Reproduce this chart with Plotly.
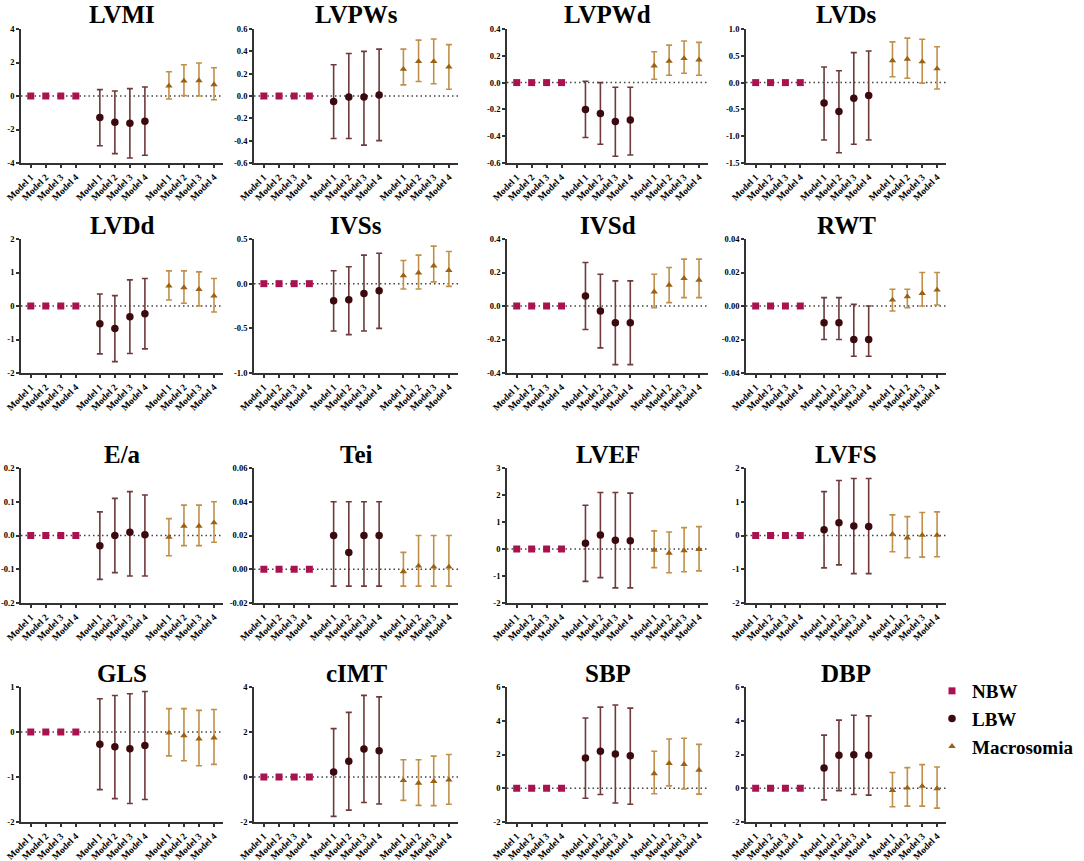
import plotly.graph_objects as go
from plotly.subplots import make_subplots

metrics = ["LVMI", "LVPWs", "LVPWd", "LVDs", "LVDd", "IVSs", "IVSd", "RWT",
           "E/a", "Tei", "LVEF", "LVFS", "GLS", "cIMT", "SBP", "DBP"]
model_labels = ["Model 1", "Model 2", "Model 3", "Model 4"]
group_names = ["NBW", "LBW", "Macrosomia"]

# y axis ranges / tick step / decimals per panel
y_min = [-4, -0.6, -0.6, -1.5, -2, -1.0, -0.4, -0.04, -0.2, -0.02, -2, -2, -2, -2, -2, -2]
y_max = [4, 0.6, 0.4, 1.0, 2, 0.5, 0.4, 0.04, 0.2, 0.06, 3, 2, 1, 4, 6, 6]
y_step = [2, 0.2, 0.2, 0.5, 1, 0.5, 0.2, 0.02, 0.1, 0.02, 1, 1, 1, 2, 2, 2]
y_dec = [0, 1, 1, 1, 0, 1, 1, 2, 1, 2, 0, 0, 0, 0, 0, 0]

# NBW is the reference group -> 0 everywhere
nbw_est = [0, 0, 0, 0]

lbw_est = [
    [-1.29, -1.57, -1.63, -1.51], [-0.05, -0.01, -0.01, 0.01], [-0.20, -0.23, -0.29, -0.28],
    [-0.38, -0.54, -0.29, -0.24], [-0.53, -0.67, -0.32, -0.23], [-0.19, -0.18, -0.11, -0.08],
    [0.06, -0.03, -0.10, -0.10], [-0.01, -0.01, -0.02, -0.02], [-0.03, 0.0, 0.01, 0.002],
    [0.02, 0.01, 0.02, 0.02], [0.21, 0.52, 0.32, 0.31], [0.17, 0.38, 0.28, 0.27],
    [-0.27, -0.33, -0.37, -0.30], [0.22, 0.70, 1.24, 1.17], [1.79, 2.20, 2.03, 1.93],
    [1.20, 1.95, 1.99, 1.95],
]
lbw_lo = [
    [-2.97, -3.44, -3.70, -3.54], [-0.38, -0.38, -0.44, -0.40], [-0.41, -0.46, -0.55, -0.54],
    [-1.07, -1.31, -1.15, -1.07], [-1.43, -1.66, -1.42, -1.28], [-0.53, -0.57, -0.53, -0.50],
    [-0.14, -0.25, -0.35, -0.35], [-0.02, -0.02, -0.03, -0.03], [-0.13, -0.11, -0.12, -0.12],
    [-0.01, -0.01, -0.01, -0.01], [-1.20, -1.06, -1.44, -1.44], [-0.96, -0.87, -1.13, -1.13],
    [-1.28, -1.48, -1.59, -1.50], [-1.75, -1.47, -1.13, -1.20], [-0.59, -0.37, -0.87, -0.95],
    [-0.69, -0.14, -0.37, -0.41],
]
lbw_hi = [
    [0.38, 0.30, 0.44, 0.54], [0.28, 0.38, 0.40, 0.42], [0.01, 0.0, -0.035, -0.035],
    [0.29, 0.22, 0.56, 0.59], [0.36, 0.31, 0.78, 0.82], [0.145, 0.19, 0.32, 0.34],
    [0.26, 0.19, 0.15, 0.15], [0.005, 0.005, 0.001, 0.0], [0.07, 0.11, 0.13, 0.12],
    [0.04, 0.04, 0.04, 0.04], [1.62, 2.09, 2.09, 2.07], [1.30, 1.63, 1.69, 1.69],
    [0.74, 0.81, 0.85, 0.90], [2.15, 2.87, 3.63, 3.56], [4.16, 4.81, 4.93, 4.75],
    [3.15, 4.04, 4.33, 4.29],
]
mac_est = [
    [0.60, 0.90, 0.92, 0.68], [0.24, 0.31, 0.31, 0.26], [0.125, 0.16, 0.18, 0.17],
    [0.41, 0.44, 0.39, 0.26], [0.60, 0.55, 0.50, 0.30], [0.09, 0.12, 0.20, 0.15],
    [0.085, 0.125, 0.165, 0.155], [0.0036, 0.0056, 0.0076, 0.0096], [-0.005, 0.028, 0.028, 0.038],
    [-0.0014, 0.002, 0.0014, 0.0014], [-0.04, -0.15, -0.06, -0.01], [0.04, -0.07, 0.01, 0.01],
    [-0.02, -0.08, -0.15, -0.13], [-0.15, -0.27, -0.19, -0.13], [0.87, 1.48, 1.42, 1.08],
    [-0.12, 0.02, 0.12, -0.02],
]
mac_lo = [
    [-0.18, 0.02, 0.0, -0.22], [0.10, 0.13, 0.11, 0.06], [0.025, 0.055, 0.07, 0.055],
    [0.11, 0.08, -0.01, -0.12], [0.18, 0.08, 0.0, -0.18], [-0.06, -0.06, 0.02, -0.03],
    [-0.01, 0.02, 0.05, 0.05], [-0.003, -0.001, 0.0, 0.0006], [-0.06, -0.03, -0.03, -0.02],
    [-0.01, -0.01, -0.01, -0.01], [-0.69, -0.88, -0.84, -0.81], [-0.48, -0.66, -0.64, -0.63],
    [-0.53, -0.64, -0.75, -0.72], [-1.04, -1.26, -1.27, -1.21], [-0.33, 0.14, -0.04, -0.35],
    [-1.10, -1.06, -1.06, -1.18],
]
mac_hi = [
    [1.45, 1.87, 1.97, 1.69], [0.42, 0.50, 0.51, 0.46], [0.23, 0.28, 0.31, 0.30],
    [0.76, 0.83, 0.81, 0.67], [1.05, 1.05, 1.02, 0.82], [0.26, 0.32, 0.42, 0.36],
    [0.19, 0.23, 0.28, 0.28], [0.01, 0.01, 0.02, 0.02], [0.05, 0.09, 0.09, 0.10],
    [0.01, 0.02, 0.02, 0.02], [0.67, 0.63, 0.79, 0.83], [0.61, 0.56, 0.68, 0.70],
    [0.52, 0.52, 0.48, 0.50], [0.77, 0.77, 0.93, 1.00], [2.19, 2.92, 2.96, 2.60],
    [0.93, 1.22, 1.40, 1.26],
]

#### Layout (pixels of the 1084x861 canvas) ####
W, H = 1084, 861
col_px = [(21, 223), (254, 458), (507, 708), (746, 946)]
row_px = [(29, 163), (239, 373), (468, 603), (687, 822)]
group_start = [0, 4.6, 9.2]

serif = "Liberation Serif, Times New Roman, serif"
c_nbw = "#A8124F"
c_lbw, c_lbw_err = "#3B0A0E", "#6E3A3A"
c_mac, c_mac_err = "#9A6212", "#C0904A"

fig = make_subplots(rows=4, cols=4)

tickvals_x = [g + i for g in group_start for i in range(4)]
ticktext_x = model_labels * 3

for k, name in enumerate(metrics):
    r, c = k // 4 + 1, k % 4 + 1
    first = k == 0
    xs = [[g + i for i in range(4)] for g in group_start]

    fig.add_trace(go.Scatter(x=xs[0], y=nbw_est, mode="markers", name="NBW",
                             marker=dict(symbol="square", size=7, color=c_nbw),
                             showlegend=first, legendgroup="NBW"), row=r, col=c)

    fig.add_trace(go.Scatter(x=xs[1], y=lbw_est[k], mode="markers", name="LBW",
                             marker=dict(symbol="circle", size=7.5, color=c_lbw),
                             error_y=dict(type="data", symmetric=False,
                                          array=[h - e for h, e in zip(lbw_hi[k], lbw_est[k])],
                                          arrayminus=[e - l for e, l in zip(lbw_est[k], lbw_lo[k])],
                                          color=c_lbw_err, thickness=1.6, width=3),
                             showlegend=first, legendgroup="LBW"), row=r, col=c)

    fig.add_trace(go.Scatter(x=xs[2], y=mac_est[k], mode="markers", name="Macrosomia",
                             marker=dict(symbol="triangle-up", size=6.5, color=c_mac),
                             error_y=dict(type="data", symmetric=False,
                                          array=[h - e for h, e in zip(mac_hi[k], mac_est[k])],
                                          arrayminus=[e - l for e, l in zip(mac_est[k], mac_lo[k])],
                                          color=c_mac_err, thickness=1.6, width=3),
                             showlegend=first, legendgroup="Macrosomia"), row=r, col=c)

    # y ticks with plain hyphen for negatives
    n_ticks = int(round((y_max[k] - y_min[k]) / y_step[k])) + 1
    yvals = [round(y_min[k] + j * y_step[k], 6) for j in range(n_ticks)]
    ytext = [f"{v:.{y_dec[k]}f}" for v in yvals]
    ytext = [t[1:] if t.startswith("-") and float(t) == 0 else t for t in ytext]

    x0, x1 = col_px[c - 1]
    y0, y1 = row_px[r - 1]
    xa = "xaxis" if k == 0 else f"xaxis{k + 1}"
    ya = "yaxis" if k == 0 else f"yaxis{k + 1}"
    fig.layout[xa].update(domain=[x0 / W, x1 / W], range=[-0.65, 12.8], automargin=False,
                          tickvals=tickvals_x, ticktext=ticktext_x, tickangle=-45,
                          showline=True, linecolor="#333", linewidth=1.8,
                          ticks="outside", ticklen=3, tickwidth=1.5, tickcolor="#333",
                          showgrid=False, zeroline=False,
                          tickfont=dict(family=serif, size=9.5, color="black", weight="bold"))
    fig.layout[ya].update(domain=[1 - y1 / H, 1 - y0 / H], range=[y_min[k], y_max[k]],
                          automargin=False, tickvals=yvals, ticktext=ytext,
                          showline=True, linecolor="#333", linewidth=1.8,
                          ticks="outside", ticklen=3, tickwidth=1.5, tickcolor="#333",
                          showgrid=False, zeroline=False,
                          tickfont=dict(family=serif, size=8.5, color="black", weight="bold"))

    # dotted reference line at 0
    xref = "x" if k == 0 else f"x{k + 1}"
    yref = "y" if k == 0 else f"y{k + 1}"
    fig.add_shape(type="line", xref=f"{xref} domain", yref=yref, x0=0, x1=1, y0=0, y1=0,
                  line=dict(color="#444", width=1.5, dash="1.5px,3px"), layer="below")

    # panel title
    fig.add_annotation(text=name, xref="paper", yref="paper",
                       x=(x0 + x1) / 2 / W, y=1 - (y0 - 14) / H,
                       xanchor="center", yanchor="middle", showarrow=False,
                       font=dict(family=serif, size=25, color="black", weight="bold"))

fig.update_layout(
    width=W, height=H,
    margin=dict(l=0, r=0, t=0, b=0, autoexpand=False),
    plot_bgcolor="white", paper_bgcolor="white",
    legend=dict(x=932 / W, y=1 - 672 / H, xanchor="left", yanchor="top",
                font=dict(family=serif, size=19, color="black", weight="bold"),
                tracegroupgap=0, itemsizing="trace", bgcolor="rgba(0,0,0,0)"),
)

fig.write_html("out.html", config={"displayModeBar": False},
               post_script="document.body.style.margin='0';")
